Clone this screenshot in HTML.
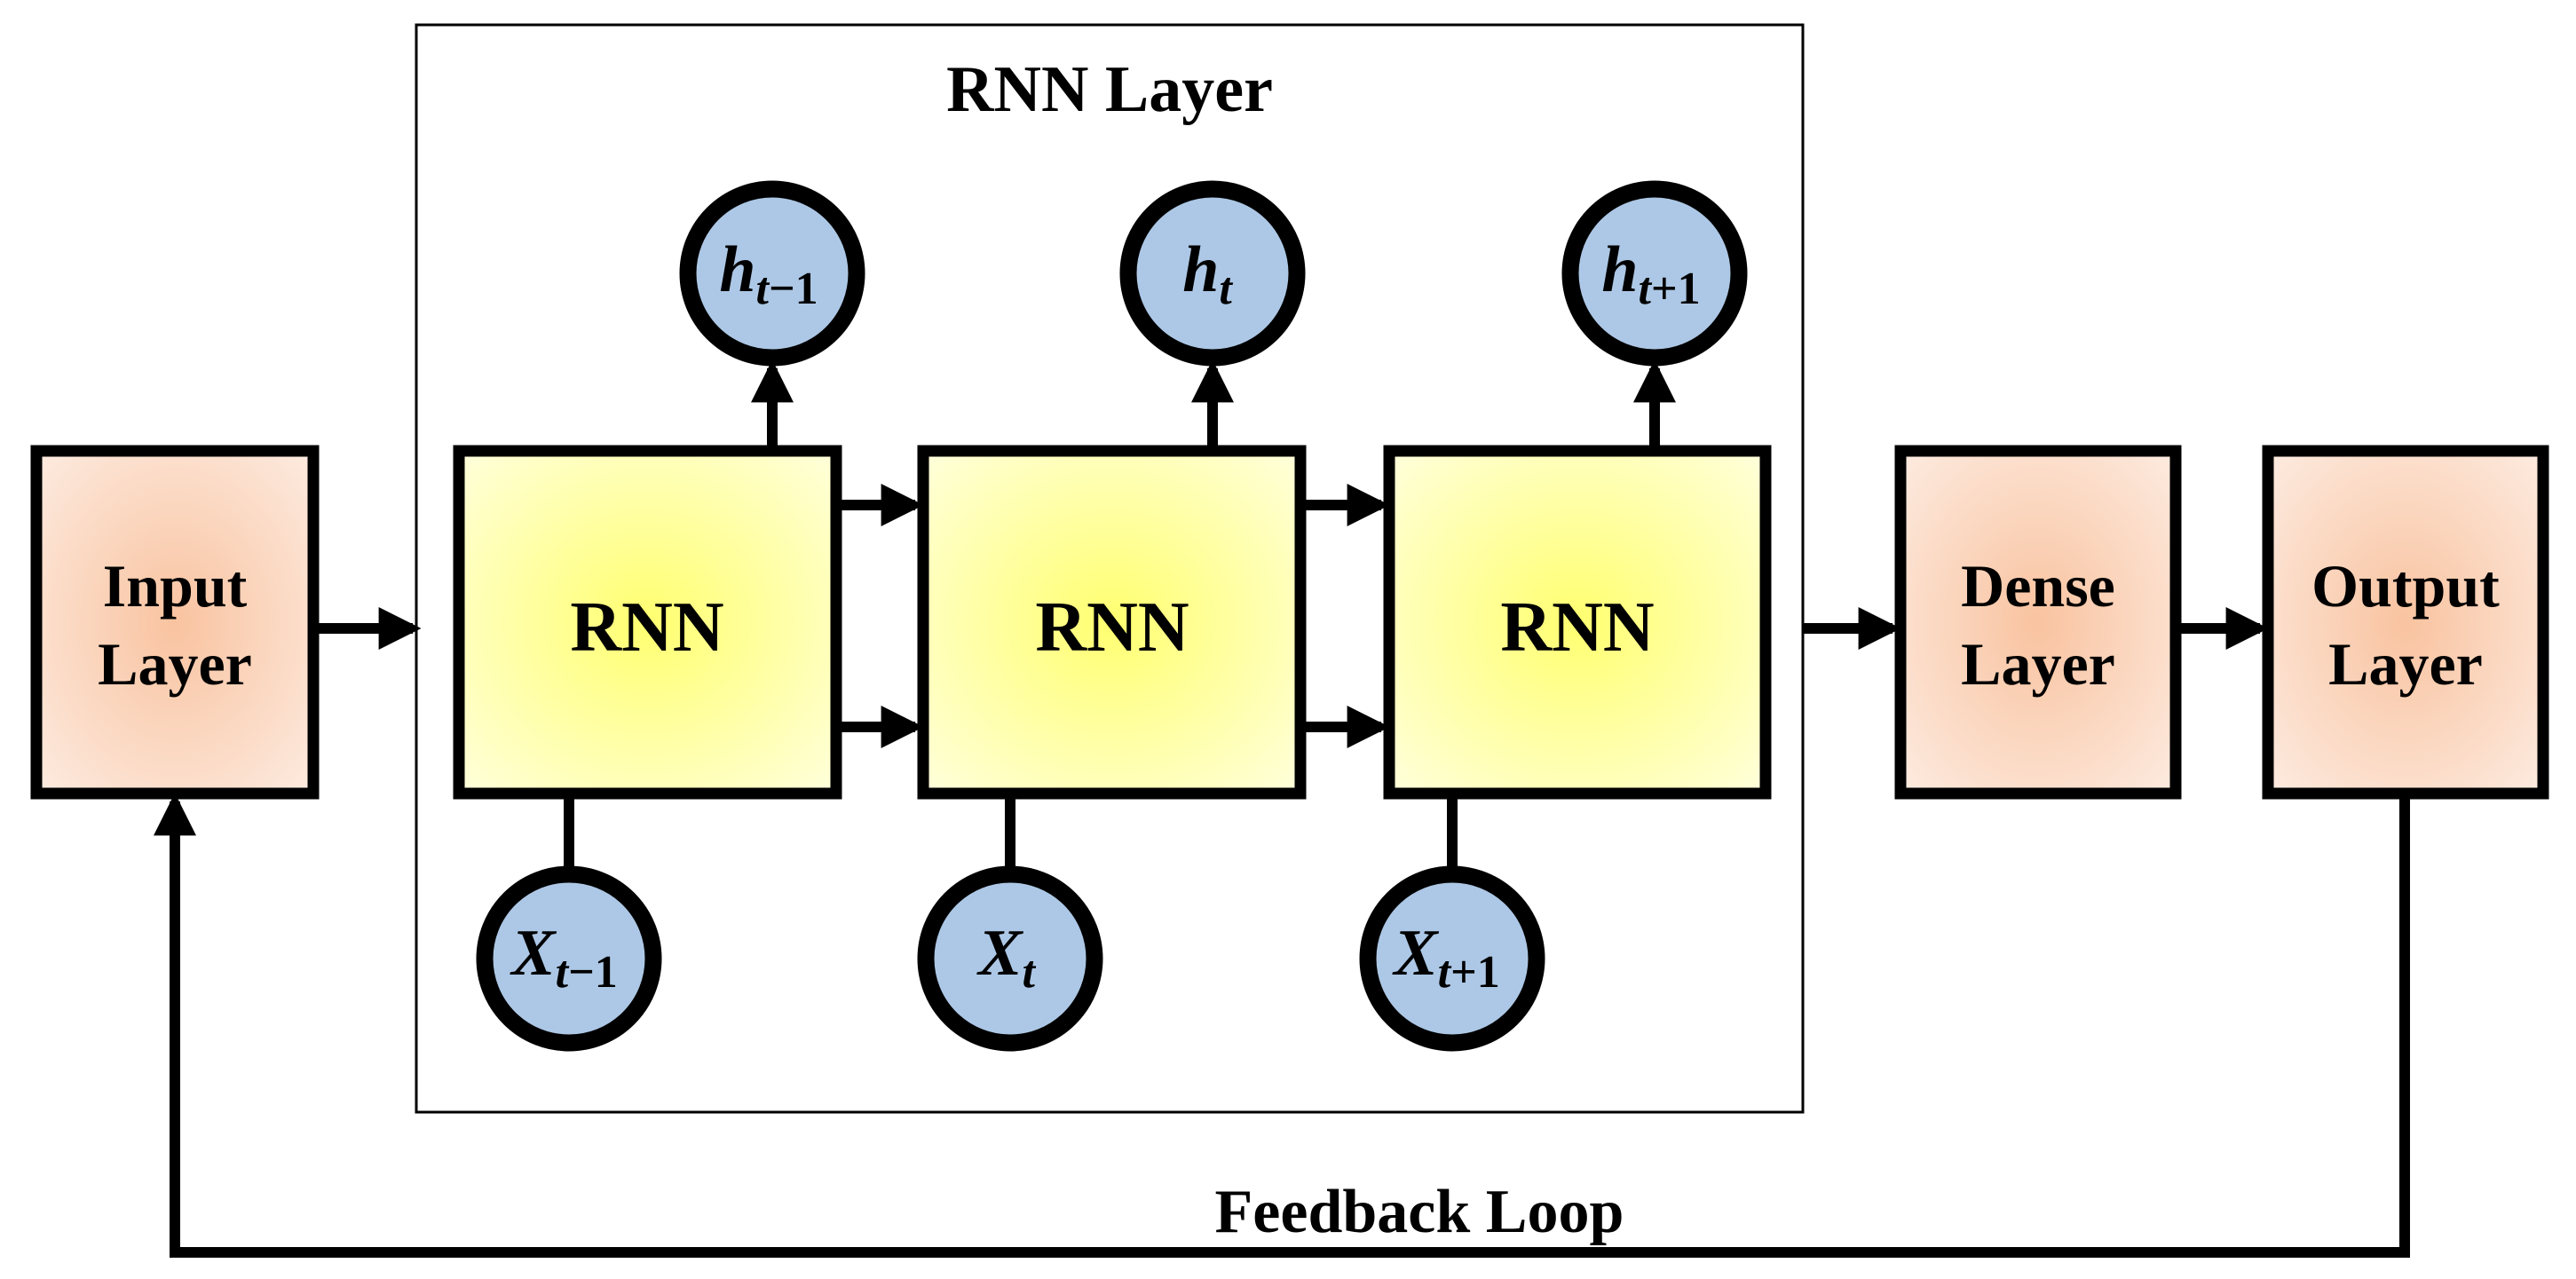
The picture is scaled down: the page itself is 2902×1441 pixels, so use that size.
<!DOCTYPE html>
<html><head><meta charset="utf-8"><style>
html,body{margin:0;padding:0;background:#fff;}
svg{display:block;}
text{font-family:"Liberation Serif",serif;font-weight:bold;fill:#000;}
</style></head><body>
<svg width="2902" height="1441" viewBox="0 0 2902 1441" xmlns="http://www.w3.org/2000/svg">
<defs>
<radialGradient id="yel" cx="50%" cy="50%" r="70%">
<stop offset="0" stop-color="#ffff70"/><stop offset="1" stop-color="#ffffdc"/></radialGradient>
<radialGradient id="org" cx="50%" cy="50%" r="70%">
<stop offset="0" stop-color="#f9c3a0"/><stop offset="1" stop-color="#fdebe0"/></radialGradient>
<marker id="ah" markerWidth="4" markerHeight="4" refX="3.2" refY="2" orient="auto" markerUnits="strokeWidth">
<path d="M0,0 L4,2 L0,4 z" fill="#000"/></marker>
</defs>
<rect x="469" y="28" width="1562" height="1225" fill="none" stroke="#000" stroke-width="3"/>
<text x="1250" y="125" font-size="74" text-anchor="middle">RNN Layer</text>

<g stroke="#000" stroke-width="12" fill="none">
<line x1="359" y1="708" x2="465" y2="708" marker-end="url(#ah)"/>
<line x1="948" y1="569" x2="1031" y2="569" marker-end="url(#ah)"/>
<line x1="948" y1="819" x2="1031" y2="819" marker-end="url(#ah)"/>
<line x1="1471" y1="569" x2="1556" y2="569" marker-end="url(#ah)"/>
<line x1="1471" y1="819" x2="1556" y2="819" marker-end="url(#ah)"/>
<line x1="2031" y1="708" x2="2132" y2="708" marker-end="url(#ah)"/>
<line x1="2457" y1="708" x2="2546" y2="708" marker-end="url(#ah)"/>
<line x1="870" y1="502" x2="870" y2="415" marker-end="url(#ah)"/>
<line x1="1366" y1="502" x2="1366" y2="415" marker-end="url(#ah)"/>
<line x1="1864" y1="502" x2="1864" y2="415" marker-end="url(#ah)"/>
<line x1="641" y1="900" x2="641" y2="980"/>
<line x1="1138" y1="900" x2="1138" y2="980"/>
<line x1="1636" y1="900" x2="1636" y2="980"/>
<polyline points="2709,900 2709,1411 197,1411 197,903" marker-end="url(#ah)"/>
</g>

<g stroke="#000" stroke-width="13">
<rect x="41" y="508" width="312" height="386" fill="url(#org)"/>
<rect x="2141" y="508" width="310" height="386" fill="url(#org)"/>
<rect x="2555" y="508" width="310" height="386" fill="url(#org)"/>
<rect x="517" y="508" width="425" height="386" fill="url(#yel)"/>
<rect x="1040" y="508" width="425" height="386" fill="url(#yel)"/>
<rect x="1565" y="508" width="424" height="386" fill="url(#yel)"/>
</g>
<g font-size="68" text-anchor="middle">
<text x="197" y="683">Input</text><text x="197" y="771">Layer</text>
<text x="2296" y="683">Dense</text><text x="2296" y="771">Layer</text>
<text x="2710" y="683">Output</text><text x="2710" y="771">Layer</text>
</g>
<g font-size="80" text-anchor="middle">
<text x="729" y="733">RNN</text><text x="1253" y="733">RNN</text><text x="1777" y="733">RNN</text>
</g>

<g fill="#adc8e6" stroke="#000" stroke-width="19">
<circle cx="870" cy="308" r="95"/><circle cx="1366" cy="308" r="95"/><circle cx="1864" cy="308" r="95"/>
<circle cx="641" cy="1080" r="95"/><circle cx="1138" cy="1080" r="95"/><circle cx="1636" cy="1080" r="95"/>
</g>
<g font-size="74" text-anchor="middle">
<text x="866" y="328"><tspan font-style="italic">h</tspan><tspan font-size="52" dy="14"><tspan font-style="italic">t</tspan>−1</tspan></text>
<text x="1360" y="328"><tspan font-style="italic">h</tspan><tspan font-size="52" dy="14" font-style="italic">t</tspan></text>
<text x="1860" y="328"><tspan font-style="italic">h</tspan><tspan font-size="52" dy="14"><tspan font-style="italic">t</tspan>+1</tspan></text>
<text x="636" y="1098"><tspan font-style="italic">X</tspan><tspan font-size="52" dy="14"><tspan font-style="italic">t</tspan>−1</tspan></text>
<text x="1134" y="1098"><tspan font-style="italic">X</tspan><tspan font-size="52" dy="14" font-style="italic">t</tspan></text>
<text x="1630" y="1098"><tspan font-style="italic">X</tspan><tspan font-size="52" dy="14"><tspan font-style="italic">t</tspan>+1</tspan></text>
</g>

<text x="1599" y="1388" font-size="70" text-anchor="middle">Feedback Loop</text>
</svg>
</body></html>
